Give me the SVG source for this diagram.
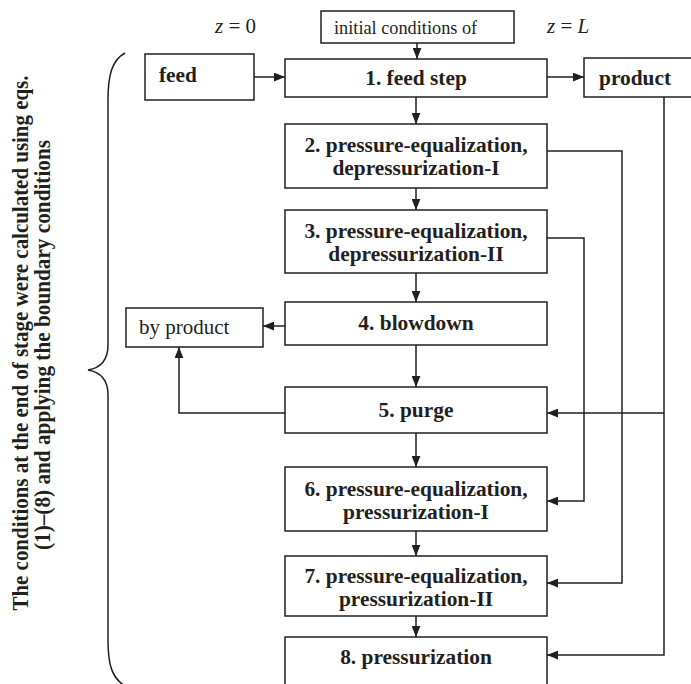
<svg xmlns="http://www.w3.org/2000/svg" width="691" height="684" viewBox="0 0 691 684">
<style>
.box{fill:#fff;stroke:#231f20;stroke-width:1.5}
.b{font-family:"Liberation Serif",serif;font-weight:bold;font-size:21.4px;fill:#231f20;text-anchor:middle}
.bl{font-family:"Liberation Serif",serif;font-weight:bold;font-size:21.4px;fill:#231f20;text-anchor:start}
.r{font-family:"Liberation Serif",serif;font-size:21px;fill:#231f20}
.line{fill:none;stroke:#231f20;stroke-width:1.5}
.v{font-family:"Liberation Serif",serif;font-weight:bold;font-size:23px;fill:#231f20;text-anchor:middle}
</style>
<defs>
<marker id="ah" viewBox="0 0 10 8" refX="10" refY="4" markerWidth="11" markerHeight="9" markerUnits="userSpaceOnUse" orient="auto">
<path d="M0,0 L10,4 L0,8 z" fill="#231f20"/>
</marker>
</defs>
<rect width="691" height="684" fill="#fff"/>

<g id="side-label">
<text class="v" transform="translate(28,343) rotate(-90)" textLength="535" lengthAdjust="spacingAndGlyphs">The conditions at the end of stage were calculated using eqs.</text>
<text class="v" transform="translate(50,345) rotate(-90)" textLength="410" lengthAdjust="spacingAndGlyphs">(1)–(8) and applying the boundary conditions</text>
<path class="line" d="M125,53 C112,60 108,75 108,100 L108,345 C108,360 100,368 88,370 C100,372 108,380 108,395 L108,640 C108,665 112,678 125,686"/>
</g>

<g id="z-labels">
<text class="r" x="215" y="33"><tspan font-style="italic">z</tspan> = 0</text>
<text class="r" x="547" y="33"><tspan font-style="italic">z</tspan> = <tspan font-style="italic">L</tspan></text>
</g>

<g id="initial">
<rect class="box" x="321" y="11" width="193" height="32"/>
<text class="r" x="334" y="34" style="font-size:18.3px">initial conditions of</text>
</g>
<g id="feed">
<rect class="box" x="145" y="54" width="109" height="46"/>
<text class="bl" x="159" y="82">feed</text>
</g>
<g id="step1">
<rect class="box" x="285" y="59" width="262" height="38"/>
<text class="b" x="416" y="85">1. feed step</text>
</g>
<g id="product">
<rect class="box" x="584" y="58" width="112" height="39"/>
<text class="bl" x="599" y="85">product</text>
</g>
<g id="step2">
<rect class="box" x="285" y="124" width="262" height="64"/>
<text class="b" x="416" y="152">2. pressure-equalization,</text>
<text class="b" x="416" y="175">depressurization-I</text>
</g>
<g id="step3">
<rect class="box" x="285" y="210" width="262" height="63"/>
<text class="b" x="416" y="238">3. pressure-equalization,</text>
<text class="b" x="416" y="261">depressurization-II</text>
</g>
<g id="byproduct">
<rect class="box" x="126" y="308" width="137" height="39"/>
<text class="r" x="139" y="334">by product</text>
</g>
<g id="step4">
<rect class="box" x="285" y="302" width="262" height="43"/>
<text class="b" x="416" y="330">4. blowdown</text>
</g>
<g id="step5">
<rect class="box" x="285" y="387" width="262" height="46"/>
<text class="b" x="416" y="417">5. purge</text>
</g>
<g id="step6">
<rect class="box" x="285" y="467" width="262" height="64"/>
<text class="b" x="416" y="496">6. pressure-equalization,</text>
<text class="b" x="416" y="519">pressurization-I</text>
</g>
<g id="step7">
<rect class="box" x="285" y="556" width="262" height="60"/>
<text class="b" x="416" y="583">7. pressure-equalization,</text>
<text class="b" x="416" y="606">pressurization-II</text>
</g>
<g id="step8">
<rect class="box" x="285" y="637" width="262" height="60"/>
<text class="b" x="416" y="664">8. pressurization</text>
</g>

<g id="connectors" class="line" marker-end="url(#ah)">
<path d="M417,43 V59"/>
<path d="M254,77 H285"/>
<path d="M547,77 H584"/>
<path d="M416,97 V124"/>
<path d="M416,188 V210"/>
<path d="M416,273 V302"/>
<path d="M416,345 V387"/>
<path d="M416,433 V467"/>
<path d="M416,531 V556"/>
<path d="M416,616 V637"/>
<path d="M285,326 H263"/>
<path d="M285,413 H179 V347"/>
<path d="M547,151 H622 V583 H547"/>
<path d="M547,238 H584 V501 H547"/>
<path d="M664,97 V655 H547"/>
<path d="M664,413 H547"/>
</g>
</svg>
